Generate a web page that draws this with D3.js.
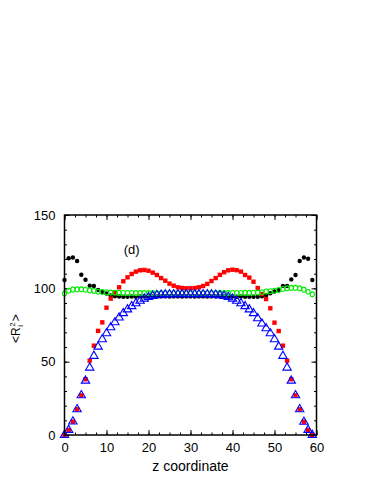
<!DOCTYPE html>
<html>
<head>
<meta charset="utf-8">
<script src="https://cdn.jsdelivr.net/npm/d3@7"></script>
<style>
  body { margin: 0; background: #fff; }
  svg { display: block; }
  text { font-family: "Liberation Sans", Arial, Helvetica, sans-serif; fill: #000; }
</style>
</head>
<body>
<svg id="chart" width="382" height="494"></svg>
<script>
// z coordinate of each layer
var zCoord = d3.range(0, 60);

// black filled circles
var blackSeries = [105.7, 120.5, 121.0, 118.6, 109.3, 105.9, 101.8, 101.6, 98.9, 97.5,
                   96.5, 95.2, 94.6, 94.4, 94.3, 94.3, 94.4, 94.3, 94.4, 94.5,
                   94.4, 94.5, 94.4, 94.5, 94.5, 94.4, 94.5, 94.5, 94.4, 94.5,
                   94.5, 94.4, 94.5, 94.5, 94.4, 94.5, 94.4, 94.5, 94.4, 94.3,
                   94.4, 94.3, 94.4, 94.3, 94.3, 94.3, 94.3, 94.6, 95.3, 96.6,
                   97.8, 98.9, 101.6, 101.6, 106.1, 109.1, 118.6, 121.0, 120.2, 105.7];
// red filled squares
var redSeries = [0, 3.4, 9.1, 17.5, 27.0, 38.0, 50.7, 60.9, 71.0, 76.8,
                 86.8, 93.0, 97.0, 100.7, 104.8, 107.5, 109.8, 111.4, 112.3, 112.5,
                 112.0, 110.7, 109.1, 107.0, 105.2, 103.2, 101.8, 100.7, 100.2, 100.0,
                 100.0, 100.2, 100.7, 101.6, 103.0, 105.0, 107.0, 109.2, 111.0, 112.3,
                 112.7, 112.4, 111.4, 109.1, 107.3, 104.5, 100.2, 96.1, 92.7, 86.4,
                 76.6, 70.9, 60.9, 50.7, 38.0, 27.0, 17.5, 9.1, 3.4, 0];
// blue open triangles
var blueSeries = [0, 3.4, 9.1, 17.5, 27.0, 37.0, 45.9, 53.9, 60.2, 65.2,
                  69.3, 73.4, 76.8, 80.0, 83.0, 85.6, 87.8, 89.8, 91.5, 92.9,
                  94.0, 94.8, 95.3, 95.6, 95.8, 95.9, 95.9, 95.9, 95.9, 95.9,
                  95.9, 95.9, 95.9, 95.9, 95.9, 95.8, 95.6, 95.3, 94.8, 94.0,
                  92.9, 91.5, 89.8, 87.8, 85.6, 83.0, 79.5, 76.0, 72.7, 69.3,
                  65.2, 60.2, 53.9, 45.9, 37.0, 27.0, 17.5, 9.0, 3.4, 0];
// green open circles
var greenSeries = [96.4, 98.4, 99.1, 99.3, 99.3, 99.0, 98.6, 98.2, 97.7, 97.5,
                   97.3, 97.1, 97.0, 96.9, 96.8, 96.8, 96.8, 96.7, 96.7, 96.7,
                   96.7, 96.7, 96.6, 96.6, 96.6, 96.6, 96.6, 96.6, 96.6, 96.6,
                   96.6, 96.6, 96.6, 96.6, 96.6, 96.6, 96.7, 96.7, 96.7, 96.7,
                   96.8, 96.8, 96.8, 96.9, 96.9, 97.0, 97.1, 97.3, 97.8, 98.0,
                   98.4, 98.9, 99.5, 100.0, 100.3, 100.3, 100.0, 99.1, 97.7, 95.9];

var xTicks = [0, 10, 20, 30, 40, 50, 60];
var yTicks = [0, 50, 100, 150];
var xMinor = d3.range(0, 60.1, 2.5);
var yMinor = d3.range(0, 150.1, 10);

var svg = d3.select("#chart");
var margin = {left: 64.5, top: 215, right: 65.5, bottom: 59};
var W = 382, H = 494;

var x = d3.scaleLinear().domain([0, 60]).range([margin.left, W - margin.right]);
var y = d3.scaleLinear().domain([0, 150]).range([H - margin.bottom, margin.top]);

svg.append("rect").attr("width", W).attr("height", H).attr("fill", "#fff");

// ticks (inward, mirrored on all sides)
function drawAxis(axis, tx, ty) {
    var g = svg.append("g").attr("transform", "translate(" + tx + "," + ty + ")").call(axis);
    g.select(".domain").remove();
    g.selectAll(".tick line").attr("stroke", "#000").attr("stroke-width", 1);
    g.selectAll(".tick text").style("font-size", "13px").attr("fill", "#000");
    return g;
}
var y0 = y(0), x0 = x(0), x1 = x(60), y1 = y(150);

drawAxis(d3.axisBottom(x).tickValues(xMinor).tickSize(-2.5).tickFormat(""), 0, y0);
drawAxis(d3.axisTop(x).tickValues(xMinor).tickSize(-2.5).tickFormat(""), 0, y1);
drawAxis(d3.axisLeft(y).tickValues(yMinor).tickSize(-2.5).tickFormat(""), x0, 0);
drawAxis(d3.axisRight(y).tickValues(yMinor).tickSize(-2.5).tickFormat(""), x1, 0);

drawAxis(d3.axisBottom(x).tickValues(xTicks).tickSize(-5).tickPadding(8).tickFormat(d3.format("d")), 0, y0);
drawAxis(d3.axisTop(x).tickValues(xTicks).tickSize(-5).tickFormat(""), 0, y1);
drawAxis(d3.axisLeft(y).tickValues(yTicks).tickSize(-5).tickPadding(9).tickFormat(d3.format("d")), x0, 0);
drawAxis(d3.axisRight(y).tickValues(yTicks).tickSize(-5).tickFormat(""), x1, 0);

// series
var plot = svg.append("g");

plot.selectAll("circle.black").data(blackSeries).enter().append("circle")
    .attr("class", "black")
    .attr("cx", function (d, i) { return x(zCoord[i]); })
    .attr("cy", function (d) { return y(d); })
    .attr("r", 2.2)
    .attr("fill", "#000");

plot.selectAll("rect.red").data(redSeries).enter().append("rect")
    .attr("class", "red")
    .attr("x", function (d, i) { return x(zCoord[i]) - 2.2; })
    .attr("y", function (d) { return y(d) - 2.2; })
    .attr("width", 4.4).attr("height", 4.4)
    .attr("fill", "#ff0000");

plot.selectAll("ellipse.green").data(greenSeries).enter().append("ellipse")
    .attr("class", "green")
    .attr("cx", function (d, i) { return x(zCoord[i]); })
    .attr("cy", function (d) { return y(d); })
    .attr("rx", 2.1).attr("ry", 2.5)
    .attr("fill", "none")
    .attr("stroke", "#00ee00")
    .attr("stroke-width", 1.1);

var tri = d3.symbol().type(d3.symbolTriangle).size(30);
plot.selectAll("path.blue").data(blueSeries).enter().append("path")
    .attr("class", "blue")
    .attr("transform", function (d, i) { return "translate(" + x(zCoord[i]) + "," + y(d) + ")"; })
    .attr("d", tri)
    .attr("fill", "none")
    .attr("stroke", "#0000ff")
    .attr("stroke-width", 1.1);

// frame
svg.append("rect")
    .attr("x", x0).attr("y", y1)
    .attr("width", x1 - x0).attr("height", y0 - y1)
    .attr("fill", "none").attr("stroke", "#000").attr("stroke-width", 1.5);

// texts
svg.append("text")
    .attr("x", (x0 + x1) / 2).attr("y", 471)
    .attr("text-anchor", "middle")
    .style("font-size", "14px")
    .text("z coordinate");

svg.append("text")
    .attr("x", x(16)).attr("y", 254)
    .attr("text-anchor", "middle")
    .style("font-size", "13px")
    .text("(d)");

// y label  <R_i^2>
var yl = svg.append("g").attr("transform", "translate(20,343) rotate(-90)");
var t1 = yl.append("text").attr("x", 0).attr("y", 0).style("font-size", "12px").text("<R");
var w1 = t1.node().getComputedTextLength();
var t2 = yl.append("text").attr("x", w1 + 0.5).attr("y", -5).style("font-size", "8px").text("2");
yl.append("text").attr("x", w1 + 0.5).attr("y", 2.5).style("font-size", "8px").text("i");
var w2 = t2.node().getComputedTextLength();
yl.append("text").attr("x", w1 + w2 + 1.5).attr("y", 0).style("font-size", "12px").text(">");
</script>
</body>
</html>
